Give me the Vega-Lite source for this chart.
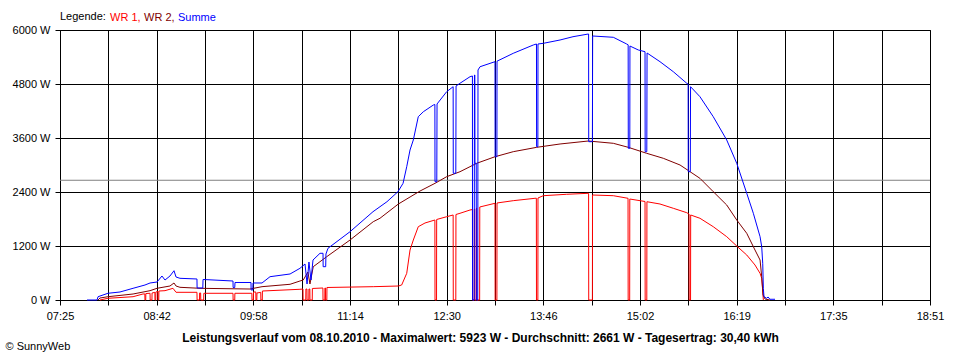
{
  "$schema": "https://vega.github.io/schema/vega-lite/v6.json",
  "width": 870,
  "height": 270,
  "autosize": "none",
  "padding": {"left": 60, "top": 30, "right": 30, "bottom": 60},
  "background": "white",
  "config": {
    "font": "Liberation Sans",
    "view": {"stroke": "black", "strokeWidth": 1},
    "axis": {
      "labelFontSize": 11, "labelColor": "black", "domainColor": "black", "tickColor": "black",
      "gridColor": "black", "gridOpacity": 1, "gridWidth": 1, "tickSize": 5, "tickWidth": 1, "domainWidth": 1
    }
  },
  "layer": [
    {
      "data": {"values": [{"avg": 2661}]},
      "mark": {"type": "rule", "color": "#808080", "strokeWidth": 1},
      "encoding": {"y": {"field": "avg", "type": "quantitative", "scale": {"domain": [0, 6000], "nice": false}}}
    },
    {
      "data": {"values": [
        {"s":"WR 1","t":476.5,"w":0},{"s":"WR 1","t":482.8,"w":38},{"s":"WR 1","t":502.6,"w":73},{"s":"WR 1","t":510.4,"w":133},
        {"s":"WR 1","t":511.9,"w":135},{"s":"WR 1","t":512.0,"w":0},{"s":"WR 1","t":512.6,"w":0},{"s":"WR 1","t":512.7,"w":144},
        {"s":"WR 1","t":516.0,"w":149},{"s":"WR 1","t":516.1,"w":0},{"s":"WR 1","t":517.5,"w":0},{"s":"WR 1","t":517.6,"w":156},
        {"s":"WR 1","t":519.8,"w":170},{"s":"WR 1","t":519.9,"w":0},{"s":"WR 1","t":520.5,"w":0},{"s":"WR 1","t":520.6,"w":178},
        {"s":"WR 1","t":522.2,"w":190},{"s":"WR 1","t":522.3,"w":0},{"s":"WR 1","t":522.9,"w":0},{"s":"WR 1","t":523.0,"w":200},
        {"s":"WR 1","t":527.8,"w":207},{"s":"WR 1","t":534.1,"w":260},{"s":"WR 1","t":536.5,"w":171},{"s":"WR 1","t":553.0,"w":171},
        {"s":"WR 1","t":553.1,"w":0},{"s":"WR 1","t":555.0,"w":0},{"s":"WR 1","t":555.1,"w":156},{"s":"WR 1","t":555.9,"w":156},
        {"s":"WR 1","t":556.0,"w":0},{"s":"WR 1","t":558.3,"w":0},{"s":"WR 1","t":558.4,"w":149},{"s":"WR 1","t":581.4,"w":149},
        {"s":"WR 1","t":581.5,"w":0},{"s":"WR 1","t":582.8,"w":0},{"s":"WR 1","t":582.9,"w":149},{"s":"WR 1","t":596.3,"w":149},
        {"s":"WR 1","t":596.4,"w":0},{"s":"WR 1","t":597.5,"w":0},{"s":"WR 1","t":597.6,"w":178},{"s":"WR 1","t":599.4,"w":178},
        {"s":"WR 1","t":599.5,"w":0},{"s":"WR 1","t":600.2,"w":0},{"s":"WR 1","t":600.3,"w":156},{"s":"WR 1","t":603.3,"w":170},
        {"s":"WR 1","t":603.4,"w":0},{"s":"WR 1","t":604.5,"w":0},{"s":"WR 1","t":604.6,"w":200},{"s":"WR 1","t":634.2,"w":238},
        {"s":"WR 1","t":636.6,"w":244},{"s":"WR 1","t":636.7,"w":0},{"s":"WR 1","t":638.8,"w":0},{"s":"WR 1","t":638.9,"w":244},
        {"s":"WR 1","t":639.7,"w":244},{"s":"WR 1","t":639.8,"w":0},{"s":"WR 1","t":641.2,"w":0},{"s":"WR 1","t":641.3,"w":244},
        {"s":"WR 1","t":642.0,"w":244},{"s":"WR 1","t":642.1,"w":0},{"s":"WR 1","t":643.9,"w":0},{"s":"WR 1","t":644.0,"w":256},
        {"s":"WR 1","t":652.3,"w":267},{"s":"WR 1","t":652.4,"w":0},{"s":"WR 1","t":653.8,"w":0},{"s":"WR 1","t":653.9,"w":267},
        {"s":"WR 1","t":654.3,"w":267},{"s":"WR 1","t":654.4,"w":0},{"s":"WR 1","t":655.4,"w":0},{"s":"WR 1","t":655.5,"w":278},
        {"s":"WR 1","t":692.0,"w":296},{"s":"WR 1","t":711.8,"w":311},{"s":"WR 1","t":714.4,"w":333},{"s":"WR 1","t":718.4,"w":593},
        {"s":"WR 1","t":721.0,"w":1111},{"s":"WR 1","t":723.6,"w":1333},{"s":"WR 1","t":727.5,"w":1629},{"s":"WR 1","t":732.8,"w":1711},
        {"s":"WR 1","t":740.6,"w":1778},{"s":"WR 1","t":740.7,"w":0},{"s":"WR 1","t":741.9,"w":0},{"s":"WR 1","t":742.0,"w":1789},
        {"s":"WR 1","t":749.9,"w":1851},{"s":"WR 1","t":755.0,"w":1889},{"s":"WR 1","t":755.1,"w":0},{"s":"WR 1","t":757.1,"w":0},
        {"s":"WR 1","t":757.2,"w":1900},{"s":"WR 1","t":760.4,"w":1927},{"s":"WR 1","t":768.3,"w":2000},{"s":"WR 1","t":770.2,"w":2011},
        {"s":"WR 1","t":770.3,"w":0},{"s":"WR 1","t":771.6,"w":0},{"s":"WR 1","t":771.7,"w":2022},{"s":"WR 1","t":772.0,"w":2022},
        {"s":"WR 1","t":772.1,"w":0},{"s":"WR 1","t":773.3,"w":0},{"s":"WR 1","t":773.4,"w":2044},{"s":"WR 1","t":773.6,"w":2044},
        {"s":"WR 1","t":773.7,"w":0},{"s":"WR 1","t":775.9,"w":0},{"s":"WR 1","t":776.0,"w":2067},{"s":"WR 1","t":788.0,"w":2149},
        {"s":"WR 1","t":788.1,"w":0},{"s":"WR 1","t":789.5,"w":0},{"s":"WR 1","t":789.6,"w":2156},{"s":"WR 1","t":802.4,"w":2207},
        {"s":"WR 1","t":819.5,"w":2260},{"s":"WR 1","t":820.6,"w":2262},{"s":"WR 1","t":820.7,"w":0},{"s":"WR 1","t":821.8,"w":0},
        {"s":"WR 1","t":821.9,"w":2267},{"s":"WR 1","t":826.1,"w":2318},{"s":"WR 1","t":844.5,"w":2349},{"s":"WR 1","t":861.6,"w":2371},
        {"s":"WR 1","t":861.8,"w":2371},{"s":"WR 1","t":861.9,"w":0},{"s":"WR 1","t":864.8,"w":0},{"s":"WR 1","t":864.9,"w":2333},
        {"s":"WR 1","t":881.3,"w":2318},{"s":"WR 1","t":892.9,"w":2260},{"s":"WR 1","t":893.0,"w":0},{"s":"WR 1","t":894.2,"w":0},
        {"s":"WR 1","t":894.3,"w":2244},{"s":"WR 1","t":906.3,"w":2189},{"s":"WR 1","t":906.4,"w":0},{"s":"WR 1","t":907.7,"w":0},
        {"s":"WR 1","t":907.8,"w":2184},{"s":"WR 1","t":918.1,"w":2133},{"s":"WR 1","t":928.6,"w":2038},{"s":"WR 1","t":939.2,"w":1940},
        {"s":"WR 1","t":941.0,"w":1910},{"s":"WR 1","t":941.1,"w":0},{"s":"WR 1","t":942.2,"w":0},{"s":"WR 1","t":942.3,"w":1889},
        {"s":"WR 1","t":949.6,"w":1816},{"s":"WR 1","t":960.1,"w":1629},{"s":"WR 1","t":970.7,"w":1407},{"s":"WR 1","t":978.6,"w":1200},
        {"s":"WR 1","t":986.5,"w":1000},{"s":"WR 1","t":993.0,"w":778},{"s":"WR 1","t":997.0,"w":593},{"s":"WR 1","t":998.3,"w":482},
        {"s":"WR 1","t":998.9,"w":270},{"s":"WR 1","t":999.6,"w":0},

        {"s":"WR 2","t":475.0,"w":0},{"s":"WR 2","t":476.5,"w":44},{"s":"WR 2","t":482.8,"w":73},{"s":"WR 2","t":502.6,"w":133},
        {"s":"WR 2","t":516.0,"w":207},{"s":"WR 2","t":521.5,"w":260},{"s":"WR 2","t":531.7,"w":311},{"s":"WR 2","t":534.9,"w":378},
        {"s":"WR 2","t":536.5,"w":311},{"s":"WR 2","t":539.6,"w":282},{"s":"WR 2","t":555.4,"w":260},{"s":"WR 2","t":594.8,"w":244},
        {"s":"WR 2","t":604.3,"w":296},{"s":"WR 2","t":626.4,"w":349},{"s":"WR 2","t":634.2,"w":422},{"s":"WR 2","t":636.8,"w":444},
        {"s":"WR 2","t":640.5,"w":622},{"s":"WR 2","t":642.1,"w":356},{"s":"WR 2","t":644.7,"w":740},{"s":"WR 2","t":655.3,"w":962},
        {"s":"WR 2","t":673.7,"w":1333},{"s":"WR 2","t":692.0,"w":1740},{"s":"WR 2","t":697.3,"w":1816},{"s":"WR 2","t":711.8,"w":2133},
        {"s":"WR 2","t":728.9,"w":2422},{"s":"WR 2","t":740.7,"w":2593},{"s":"WR 2","t":749.9,"w":2740},{"s":"WR 2","t":760.4,"w":2851},
        {"s":"WR 2","t":773.6,"w":3038},{"s":"WR 2","t":788.0,"w":3184},{"s":"WR 2","t":802.4,"w":3296},{"s":"WR 2","t":820.9,"w":3393},
        {"s":"WR 2","t":839.3,"w":3467},{"s":"WR 2","t":861.6,"w":3533},{"s":"WR 2","t":881.3,"w":3482},{"s":"WR 2","t":893.1,"w":3393},
        {"s":"WR 2","t":907.6,"w":3260},{"s":"WR 2","t":920.7,"w":3149},{"s":"WR 2","t":933.9,"w":3000},{"s":"WR 2","t":941.8,"w":2851},
        {"s":"WR 2","t":949.6,"w":2704},{"s":"WR 2","t":960.1,"w":2407},{"s":"WR 2","t":970.7,"w":2111},{"s":"WR 2","t":978.6,"w":1778},
        {"s":"WR 2","t":986.5,"w":1482},{"s":"WR 2","t":993.0,"w":1111},{"s":"WR 2","t":997.0,"w":889},{"s":"WR 2","t":998.3,"w":518},
        {"s":"WR 2","t":999.4,"w":111},{"s":"WR 2","t":1000.9,"w":22},{"s":"WR 2","t":1004.8,"w":0},

        {"s":"Summe","t":466.3,"w":0},{"s":"Summe","t":474.2,"w":0},{"s":"Summe","t":475.0,"w":73},{"s":"Summe","t":482.8,"w":149},
        {"s":"Summe","t":492.3,"w":178},{"s":"Summe","t":502.6,"w":260},{"s":"Summe","t":512.0,"w":333},{"s":"Summe","t":516.0,"w":378},
        {"s":"Summe","t":521.5,"w":400},{"s":"Summe","t":525.4,"w":533},{"s":"Summe","t":527.8,"w":444},{"s":"Summe","t":531.7,"w":533},
        {"s":"Summe","t":534.9,"w":651},{"s":"Summe","t":536.5,"w":511},{"s":"Summe","t":539.6,"w":482},{"s":"Summe","t":553.0,"w":467},
        {"s":"Summe","t":553.1,"w":267},{"s":"Summe","t":557.6,"w":267},{"s":"Summe","t":557.8,"w":456},{"s":"Summe","t":581.4,"w":422},
        {"s":"Summe","t":581.5,"w":278},{"s":"Summe","t":582.8,"w":278},{"s":"Summe","t":583.0,"w":389},{"s":"Summe","t":595.6,"w":389},
        {"s":"Summe","t":595.7,"w":222},{"s":"Summe","t":597.0,"w":222},{"s":"Summe","t":597.2,"w":378},{"s":"Summe","t":604.3,"w":378},
        {"s":"Summe","t":610.6,"w":518},{"s":"Summe","t":626.4,"w":578},{"s":"Summe","t":634.2,"w":704},{"s":"Summe","t":638.2,"w":800},
        {"s":"Summe","t":639.8,"w":356},{"s":"Summe","t":641.3,"w":844},{"s":"Summe","t":642.9,"w":444},{"s":"Summe","t":644.5,"w":889},
        {"s":"Summe","t":650.0,"w":1038},{"s":"Summe","t":652.4,"w":1038},{"s":"Summe","t":652.5,"w":740},{"s":"Summe","t":654.5,"w":740},
        {"s":"Summe","t":654.7,"w":1022},{"s":"Summe","t":656.3,"w":1149},{"s":"Summe","t":673.7,"w":1518},{"s":"Summe","t":691.8,"w":1962},
        {"s":"Summe","t":702.8,"w":2184},{"s":"Summe","t":711.5,"w":2407},{"s":"Summe","t":715.5,"w":2593},{"s":"Summe","t":718.4,"w":2962},
        {"s":"Summe","t":721.0,"w":3333},{"s":"Summe","t":723.6,"w":3556},{"s":"Summe","t":727.5,"w":4073},{"s":"Summe","t":731.5,"w":4184},
        {"s":"Summe","t":739.4,"w":4333},{"s":"Summe","t":740.6,"w":4344},{"s":"Summe","t":740.7,"w":2629},{"s":"Summe","t":742.1,"w":2629},
        {"s":"Summe","t":742.3,"w":4356},{"s":"Summe","t":749.9,"w":4629},{"s":"Summe","t":755.0,"w":4740},{"s":"Summe","t":755.1,"w":2816},
        {"s":"Summe","t":757.1,"w":2816},{"s":"Summe","t":757.3,"w":4756},{"s":"Summe","t":760.4,"w":4816},{"s":"Summe","t":768.3,"w":4962},
        {"s":"Summe","t":770.2,"w":4978},{"s":"Summe","t":770.3,"w":0},{"s":"Summe","t":771.6,"w":0},{"s":"Summe","t":771.8,"w":5000},
        {"s":"Summe","t":772.1,"w":5000},{"s":"Summe","t":772.2,"w":3038},{"s":"Summe","t":773.2,"w":3038},{"s":"Summe","t":773.3,"w":0},
        {"s":"Summe","t":774.4,"w":0},{"s":"Summe","t":774.6,"w":5111},{"s":"Summe","t":776.2,"w":5184},{"s":"Summe","t":788.0,"w":5296},
        {"s":"Summe","t":788.1,"w":3184},{"s":"Summe","t":789.5,"w":3184},{"s":"Summe","t":789.6,"w":5307},{"s":"Summe","t":802.4,"w":5482},
        {"s":"Summe","t":818.2,"w":5667},{"s":"Summe","t":820.7,"w":5689},{"s":"Summe","t":820.8,"w":3407},{"s":"Summe","t":821.8,"w":3407},
        {"s":"Summe","t":821.9,"w":5689},{"s":"Summe","t":826.1,"w":5704},{"s":"Summe","t":839.3,"w":5778},{"s":"Summe","t":849.5,"w":5851},
        {"s":"Summe","t":861.6,"w":5911},{"s":"Summe","t":861.8,"w":5911},{"s":"Summe","t":861.9,"w":3518},{"s":"Summe","t":864.8,"w":3518},
        {"s":"Summe","t":865.0,"w":5867},{"s":"Summe","t":881.3,"w":5838},{"s":"Summe","t":891.8,"w":5689},{"s":"Summe","t":893.0,"w":5670},
        {"s":"Summe","t":893.1,"w":3371},{"s":"Summe","t":894.3,"w":3371},{"s":"Summe","t":894.4,"w":5644},{"s":"Summe","t":901.0,"w":5556},
        {"s":"Summe","t":906.3,"w":5518},{"s":"Summe","t":906.4,"w":3296},{"s":"Summe","t":907.7,"w":3296},{"s":"Summe","t":907.9,"w":5489},
        {"s":"Summe","t":918.1,"w":5296},{"s":"Summe","t":928.6,"w":5073},{"s":"Summe","t":939.2,"w":4816},{"s":"Summe","t":940.3,"w":4800},
        {"s":"Summe","t":940.4,"w":2851},{"s":"Summe","t":942.0,"w":2851},{"s":"Summe","t":942.2,"w":4740},{"s":"Summe","t":949.6,"w":4518},
        {"s":"Summe","t":960.1,"w":4073},{"s":"Summe","t":970.7,"w":3556},{"s":"Summe","t":978.6,"w":3038},{"s":"Summe","t":986.5,"w":2371},
        {"s":"Summe","t":991.7,"w":1927},{"s":"Summe","t":997.0,"w":1407},{"s":"Summe","t":998.3,"w":1184},{"s":"Summe","t":999.1,"w":816},
        {"s":"Summe","t":999.6,"w":260},{"s":"Summe","t":1000.1,"w":73},{"s":"Summe","t":1002.2,"w":38},{"s":"Summe","t":1003.3,"w":67},
        {"s":"Summe","t":1004.8,"w":16},{"s":"Summe","t":1008.8,"w":16}
      ]},
      "mark": {"type": "line", "strokeWidth": 1, "interpolate": "linear"},
      "encoding": {
        "x": {
          "field": "t", "type": "quantitative",
          "scale": {"domain": [445, 1131], "nice": false, "zero": false},
          "axis": {
            "values": [445, 483.111, 521.222, 559.333, 597.444, 635.556, 673.667, 711.778, 749.889, 788, 826.111, 864.222, 902.333, 940.444, 978.556, 1016.667, 1054.778, 1092.889, 1131],
            "labelExpr": "['07:25','','08:42','','09:58','','11:14','','12:30','','13:46','','15:02','','16:19','','17:35','','18:51'][round((datum.value-445)/38.1111)]",
            "grid": true, "labelPadding": 5, "labelFlush": false, "labelOverlap": false,
            "title": "Leistungsverlauf vom 08.10.2010 - Maximalwert: 5923 W - Durchschnitt: 2661 W - Tagesertrag: 30,40 kWh",
            "titleX": 420, "titleY": 41, "titleAlign": "center", "titleAnchor": null,
            "titleBaseline": "alphabetic", "titleFontWeight": "bold", "titleFontSize": 12, "titleColor": "black", "titleLimit": 0
          }
        },
        "y": {
          "field": "w", "type": "quantitative",
          "scale": {"domain": [0, 6000], "nice": false},
          "axis": {
            "values": [0, 1200, 2400, 3600, 4800, 6000],
            "labelExpr": "datum.value + ' W'", "grid": true, "labelPadding": 5, "labelFlush": false,
            "title": "© SunnyWeb", "titleAngle": 0, "titleX": -55, "titleY": 319, "titleAlign": "left", "titleAnchor": null,
            "titleBaseline": "alphabetic", "titleFontWeight": "normal", "titleFontSize": 11, "titleColor": "black"
          }
        },
        "color": {
          "field": "s", "type": "nominal",
          "scale": {"domain": ["WR 1", "WR 2", "Summe"], "range": ["#ff0000", "#800000", "#0000ff"]},
          "legend": {
            "orient": "none", "legendX": 0, "legendY": -18, "direction": "horizontal",
            "title": "Legende:", "titleOrient": "left", "titleFontWeight": "normal", "titleFontSize": 11,
            "titleColor": "black", "titlePadding": 6, "labelFontSize": 11, "labelOffset": -13,
            "symbolSize": 0, "symbolStrokeWidth": 0, "symbolOpacity": 0, "columnPadding": 3, "padding": 0,
            "labelExpr": "datum.value == 'Summe' ? 'Summe' : datum.value + ','",
            "labelColor": {"expr": "datum.value == 'WR 1' ? '#ff0000' : datum.value == 'WR 2' ? '#800000' : '#0000ff'"}
          }
        }
      }
    }
  ]
}
